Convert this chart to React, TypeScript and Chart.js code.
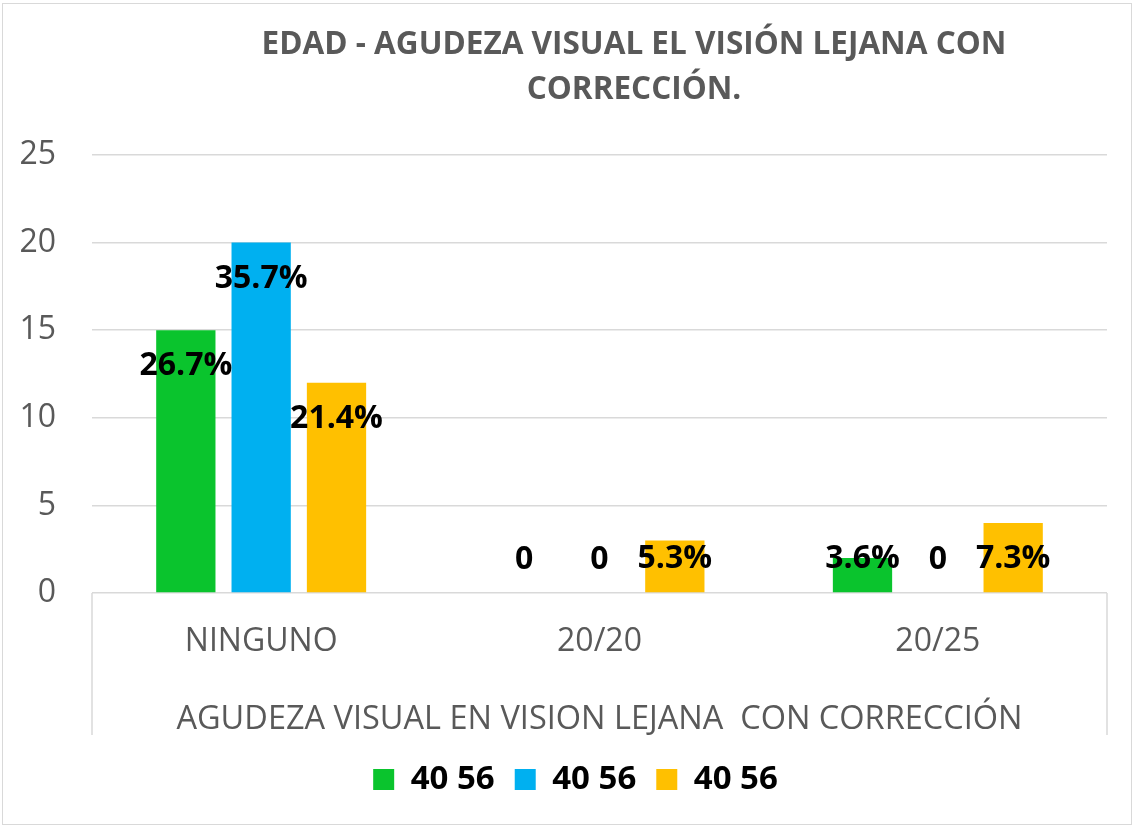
import React, { useEffect, useRef } from "react";
import { Chart, registerables } from "chart.js";

Chart.register(...registerables);

const titleLines = ["EDAD - AGUDEZA VISUAL EL VISIÓN LEJANA CON", "CORRECCIÓN."];
const categories = ["NINGUNO", "20/20", "20/25"];
const xAxisTitle = "AGUDEZA VISUAL EN VISION LEJANA  CON CORRECCIÓN";
const seriesNames = ["40 56", "40 56", "40 56"];
const greenValues = [15, 0, 2];
const blueValues = [20, 0, 0];
const orangeValues = [12, 3, 4];
const greenLabels = ["26.7%", "0", "3.6%"];
const blueLabels = ["35.7%", "0", "0"];
const orangeLabels = ["21.4%", "5.3%", "7.3%"];
const yMin = 0;
const yMax = 25;
const yStep = 5;

const COLORS = ["#0AC42D", "#00B0F0", "#FFC000"];
const GREY = "#595959";
const GRID = "#D9D9D9";
const FONT = '"Open Sans", "DejaVu Sans", sans-serif';

const PLOT_BOTTOM = 593;
const PAD_BOTTOM = 22;
const LEGEND_SHIFT = 22;

export default function App() {
  const ref = useRef<HTMLCanvasElement | null>(null);

  useEffect(() => {
    const canvas = ref.current;
    if (!canvas) return;
    const allLabels = [greenLabels, blueLabels, orangeLabels];

    const decor = {
      id: "decor",
      afterLayout(chart: any) {
        if (chart.legend) {
          chart.legend.left += LEGEND_SHIFT;
          chart.legend.right += LEGEND_SHIFT;
        }
      },
      afterDraw(chart: any) {
        const ctx = chart.ctx;
        const area = chart.chartArea;
        ctx.save();
        ctx.fillStyle = GREY;
        ctx.font = `bold 31.5px ${FONT}`;
        ctx.textAlign = "center";
        ctx.textBaseline = "middle";
        ctx.fillText(titleLines[0], 634, 45);
        ctx.fillText(titleLines[1], 634, 90);
        ctx.strokeStyle = GRID;
        ctx.lineWidth = 1.5;
        ctx.beginPath();
        ctx.moveTo(area.left, area.bottom);
        ctx.lineTo(area.left, 735);
        ctx.moveTo(area.right, area.bottom);
        ctx.lineTo(area.right, 735);
        ctx.stroke();
        ctx.restore();
      },
      afterDatasetsDraw(chart: any) {
        const ctx = chart.ctx;
        ctx.save();
        ctx.fillStyle = "#000000";
        ctx.font = `bold 32px ${FONT}`;
        ctx.textAlign = "center";
        ctx.textBaseline = "middle";
        chart.data.datasets.forEach((_: any, i: number) => {
          const meta = chart.getDatasetMeta(i);
          meta.data.forEach((bar: any, j: number) => {
            const y = Math.min(bar.y + 36, bar.base - 33);
            ctx.fillText(allLabels[i][j], bar.x, y);
          });
        });
        ctx.restore();
      },
    };

    const chart = new Chart(canvas, {
      type: "bar",
      data: {
        labels: categories,
        datasets: [greenValues, blueValues, orangeValues].map((vals, i) => ({
          label: seriesNames[i],
          data: vals,
          backgroundColor: COLORS[i],
          borderWidth: 0,
          categoryPercentage: 0.668,
          barPercentage: 0.787,
        })),
      },
      options: {
        animation: false,
        responsive: false,
        maintainAspectRatio: false,
        layout: { padding: { top: 155, right: 29, bottom: PAD_BOTTOM, left: 0 } },
        plugins: {
          title: { display: false },
          tooltip: { enabled: false },
          legend: {
            position: "bottom",
            labels: {
              color: "#000000",
              font: { family: FONT, size: 33, weight: "bold" },
              boxWidth: 21,
              boxHeight: 21,
              padding: 20,
            },
          },
        },
        scales: {
          x: {
            grid: { display: false, drawTicks: false },
            border: { display: false },
            ticks: {
              color: GREY,
              font: { family: FONT, size: 32 },
              padding: 30,
            },
            title: {
              display: true,
              text: xAxisTitle,
              color: GREY,
              font: { family: FONT, size: 32.5 },
              padding: { top: 0, bottom: 4 },
            },
            afterFit(scale: any) {
              const lh = scale.chart.legend ? scale.chart.legend.height : 0;
              scale.height = scale.chart.height - PLOT_BOTTOM - lh - PAD_BOTTOM;
            },
          },
          y: {
            min: yMin,
            max: yMax,
            ticks: {
              stepSize: yStep,
              color: GREY,
              font: { family: FONT, size: 32 },
              padding: 36,
            },
            grid: { color: GRID, lineWidth: 1.5, drawTicks: false },
            border: { display: false },
            afterFit(scale: any) {
              scale.width = 92;
            },
          },
        },
      },
      plugins: [decor],
    });
    return () => chart.destroy();
  }, []);

  return (
    <div style={{ position: "fixed", left: 0, top: 0, width: 1136, height: 828, background: "#ffffff" }}>
      <div
        style={{
          position: "absolute",
          left: 2,
          top: 3,
          width: 1130,
          height: 822,
          border: "1.5px solid #D9D9D9",
          boxSizing: "border-box",
        }}
      />
      <canvas ref={ref} width={1136} height={828} style={{ position: "absolute", left: 0, top: 0 }} />
    </div>
  );
}
